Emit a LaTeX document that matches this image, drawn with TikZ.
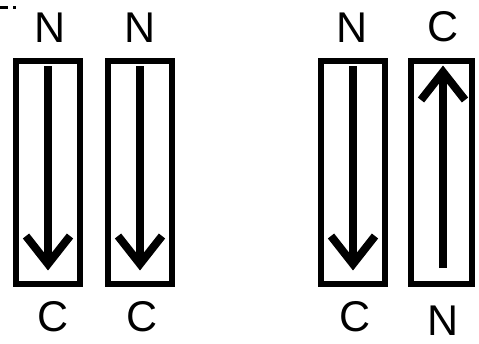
\documentclass[tikz,border=0pt]{standalone}
\usepackage{fontspec}
\setmainfont{Liberation Sans}
\begin{document}
\begin{tikzpicture}[x=1pt,y=-1pt,
  strand/.style={draw=black, line width=6pt, miter limit=10, minimum width=64pt, minimum height=223pt, inner sep=0pt},
  shaft/.style={line width=8pt, line cap=butt},
  head/.style={line width=8pt, line cap=butt, line join=miter, miter limit=10},
  term/.style={font=\fontsize{43}{43}\selectfont, anchor=base, inner sep=0pt}]
\useasboundingbox (0,0) rectangle (479,343);

% small marks in the corner
\fill (0,6) rectangle (8,8.5);
\fill (13,5.5) rectangle (16,8.5);

% strands
\node[strand] (s1) at (48,172.5) {};
\node[strand] (s2) at (140,172.5) {};
\node[strand] (s3) at (353,172.5) {};
\node[strand, minimum width=61pt] (s4) at (441,172.5) {};

% downward arrows
\foreach \s/\x in {s1/48, s2/140, s3/353} {
  \draw[shaft] (\x,66) -- (\x,264);
  \draw[head] (\x-22,236) -- (\x,264) -- (\x+22,236);
}
% upward arrow
\draw[shaft] (443,268) -- (443,72);
\draw[head] (421,100) -- (443,72) -- (465,100);

% terminal labels
\node[term] (n1) at (50,42) {N};
\node[term] (n2) at (140,42) {N};
\node[term] (n3) at (352,42) {N};
\node[term] (c4) at (443,41) {C};
\node[term] (c1) at (53,331) {C};
\node[term] (c2) at (142,331) {C};
\node[term] (c3) at (355,331) {C};
\node[term] (n4) at (443,335) {N};
\end{tikzpicture}
\end{document}
